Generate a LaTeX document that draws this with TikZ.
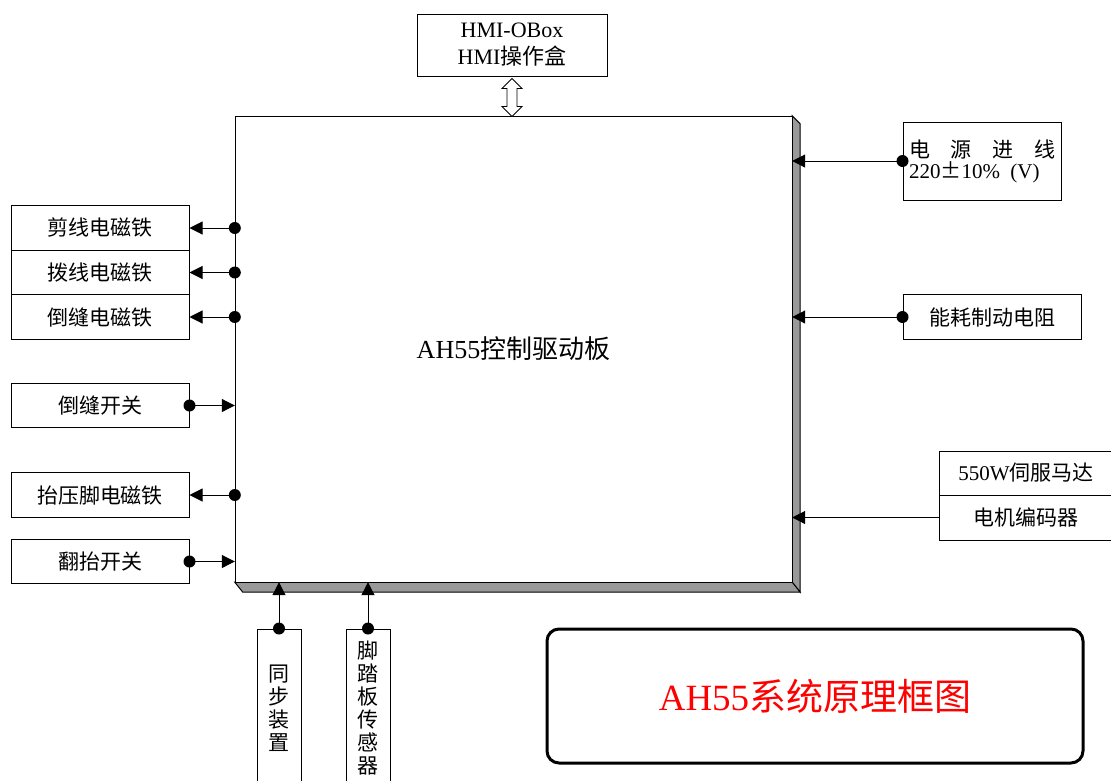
\documentclass[tikz,border=0pt]{standalone}
\usepackage{fontspec}
\setmainfont{Liberation Serif}
\newfontfamily\cjk{Noto Sans CJK SC}
\usetikzlibrary{arrows.meta,calc}
\newcommand{\zh}[1]{{\cjk #1}}
\definecolor{shade}{HTML}{999999}
\definecolor{titlered}{HTML}{FF0000}
\begin{document}
\begin{tikzpicture}[x=1pt,y=-1pt,
  box/.style={draw, line width=1pt, inner sep=0pt, font=\fontsize{21}{25}\selectfont, minimum width=178pt, minimum height=44.5pt},
  vbox/.style={draw, line width=1pt, inner sep=0pt, font=\fontsize{21}{23}\selectfont, minimum width=44pt, minimum height=158pt, align=center},
  conn/.style={line width=1pt, -{Triangle[length=13pt,width=13pt]}},
  dotr/.style={fill=black}]
\useasboundingbox (0,0) rectangle (1111,780);
% main board
\node[minimum width=557pt, minimum height=466pt, inner sep=0pt] (main) at (513.5,349) {};
\draw[line width=1pt, fill=shade] (main.north east) -- ++(8,8) -- ([shift={(8,10)}]main.south east) -- (main.south east) -- cycle;
\draw[line width=1pt, fill=shade] (main.south west) -- ++(8,10) -- ([shift={(8,10)}]main.south east) -- (main.south east) -- cycle;
\node[draw, line width=1pt, fill=white, minimum width=557pt, minimum height=466pt, inner sep=0pt, font=\fontsize{26}{30}\selectfont] at (513.5,349) {AH55\zh{控制驱动板}};
% HMI box
\node[draw, line width=1pt, minimum width=190pt, minimum height=62pt, inner sep=0pt, align=center, font=\fontsize{22}{27}\selectfont] (hmi) at (512,45) {HMI-OBox\\HMI\zh{操作盒}};
\draw[line width=0.8pt, fill=white] (hmi.south) ++(0,2) -- ++(10,10) -- ++(-5,0) -- ++(0,18) -- ++(5,0) -- ++(-10,10) -- ++(-10,-10) -- ++(5,0) -- ++(0,-18) -- ++(-5,0) -- cycle;
% left boxes
\node[box] (b1) at (100,228) {\zh{剪线电磁铁}};
\node[box] (b2) at (100,272.5) {\zh{拨线电磁铁}};
\node[box] (b3) at (100,317) {\zh{倒缝电磁铁}};
\node[box] (sw1) at (100,405.5) {\zh{倒缝开关}};
\node[box] (b4) at (100,495) {\zh{抬压脚电磁铁}};
\node[box] (sw2) at (100,561.5) {\zh{翻抬开关}};
% right boxes
\node[draw, line width=1pt, minimum width=158pt, minimum height=78pt, inner sep=0pt, align=left, font=\fontsize{21}{22}\selectfont] (power) at (982,161)
  {\makebox[146pt][s]{\cjk 电 源 进 线}\\[-1pt]220\zh{±}10\%\ \ (V)\hspace{16pt}};
\node[box] (brake) at (992,317) {\zh{能耗制动电阻}};
\node[box, minimum width=174pt, minimum height=44pt] (m1) at (1026,473) {550W\zh{伺服马达}};
\node[box, minimum width=174pt, minimum height=45pt] (m2) at (1026,517.5) {\zh{电机编码器}};
% bottom boxes
\node[vbox] (s1) at (279,708) {\zh{同}\\\zh{步}\\\zh{装}\\\zh{置}};
\node[vbox] (s2) at (368,708) {\zh{脚}\\\zh{踏}\\\zh{板}\\\zh{传}\\\zh{感}\\\zh{器}};
% title
\node[draw, line width=3pt, rounded corners=12pt, minimum width=536pt, minimum height=134pt, text=titlered, font=\fontsize{37}{40}\selectfont] (title) at (815,696) {AH55\zh{系统原理框图}};
% connectors
\foreach \b in {b1,b2,b3,b4}{
  \draw[conn] (main.west |- \b.east) -- (\b.east);
  \fill (main.west |- \b.east) circle (6);
}
\foreach \b in {sw1,sw2}{
  \draw[conn] (\b.east) -- (\b.east -| main.west);
  \fill (\b.east) circle (6);
}
\foreach \b in {power,brake}{
  \draw[conn] (\b.west) -- (\b.west -| main.east);
  \fill (\b.west) circle (6);
}
\draw[conn] (m2.west) -- (m2.west -| main.east);
\foreach \b in {s1,s2}{
  \draw[conn] (\b.north) -- (\b.north |- main.south);
  \fill (\b.north) circle (6);
}
\end{tikzpicture}
\end{document}
